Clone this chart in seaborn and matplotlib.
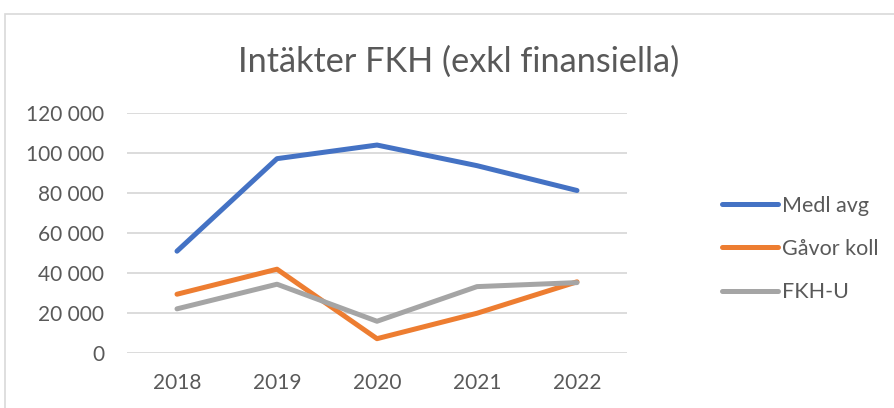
import matplotlib
matplotlib.use("Agg")
import matplotlib.pyplot as plt
import seaborn as sns
import pandas as pd
from matplotlib.patches import Rectangle
from matplotlib.ticker import FuncFormatter

years = ["2018", "2019", "2020", "2021", "2022"]
medl_avg = [51000, 97200, 104000, 93700, 81300]
gavor_koll = [29500, 42000, 7300, 20000, 35700]
fkh_u = [22200, 34500, 16000, 33300, 35300]
series_names = ["Medl avg", "Gåvor koll", "FKH-U"]
colors = ["#4472C4", "#ED7D31", "#A5A5A5"]

rows = []
for name, vals in zip(series_names, [medl_avg, gavor_koll, fkh_u]):
    for i, (y, v) in enumerate(zip(years, vals)):
        rows.append({"pos": i, "year": y, "value": v, "series": name})
df = pd.DataFrame(rows)

sns.set_theme(style="white")
plt.rcParams["font.family"] = ["Lato", "DejaVu Sans"]

fig = plt.figure(figsize=(8.95, 4.08), dpi=100)
ax = fig.add_axes([127/895, 1-353.3/408, 500/895, (353.3-113)/408])

sns.lineplot(data=df, x="pos", y="value", hue="series", hue_order=series_names,
             palette=colors, linewidth=3.6, ax=ax, legend=True, clip_on=False,
             solid_capstyle="round", solid_joinstyle="round")

ax.set_xlim(-0.5, 4.5)
ax.set_ylim(0, 120000)
ax.set_yticks(range(0, 120001, 20000))
ax.yaxis.set_major_formatter(FuncFormatter(lambda v, p: f"{int(v):,}".replace(",", " ")))
ax.set_xticks(range(len(years)))
ax.set_xticklabels(years)
ax.grid(axis="y", color="#D9D9D9", linewidth=1.3)
ax.set_axisbelow(True)
for s in ax.spines.values():
    s.set_visible(False)
ax.tick_params(axis="both", length=0, labelsize=15, labelcolor="#595959")
ax.tick_params(axis="y", pad=16.5)
ax.tick_params(axis="x", pad=14)
ax.set_xlabel("")
ax.set_ylabel("")

leg = ax.legend(loc="center left", bbox_to_anchor=(722/895, 1-249/408),
                bbox_transform=fig.transFigure, frameon=False, fontsize=15.5,
                handlelength=2.6, handletextpad=0.2, labelspacing=1.08,
                borderaxespad=0, borderpad=0)
for t in leg.get_texts():
    t.set_color("#595959")
for h in leg.get_lines():
    h.set_linewidth(3.6)

fig.text(459/895, 1-62/408, "Intäkter FKH (exkl finansiella)", ha="center", va="center",
         fontsize=24.7, color="#595959")

fig.patches.append(Rectangle((5/895, -0.01), 1.0, 1-14/408 + 0.01,
                             transform=fig.transFigure, fill=False,
                             edgecolor="#D9D9D9", linewidth=1.2))

fig.savefig("out.png", dpi=100)
